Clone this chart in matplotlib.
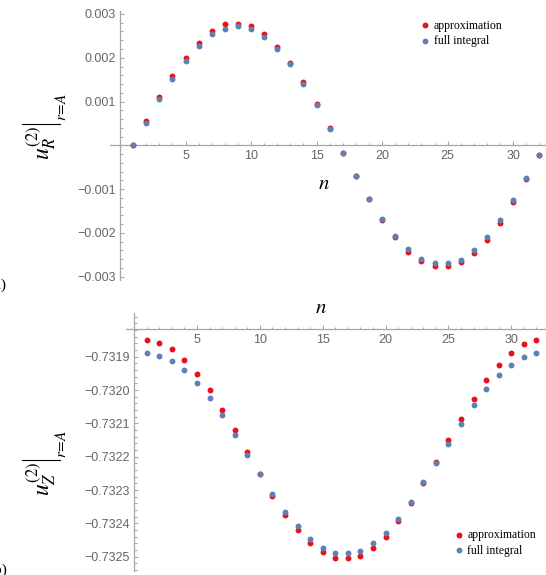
import matplotlib
matplotlib.use("Agg")
import matplotlib.pyplot as plt
from matplotlib.lines import Line2D
from matplotlib.ticker import MultipleLocator, FixedLocator, FuncFormatter

plt.rcParams['mathtext.fontset'] = 'stix'

n = list(range(1, 33))

uR_approx = [0.0, 0.000556, 0.001097, 0.001584, 0.002003, 0.00233, 0.0026, 0.00276,
             0.00278, 0.00273, 0.00254, 0.00224, 0.00189, 0.00144, 0.00094, 0.0004,
             -0.000168, -0.00071, -0.00123, -0.00171, -0.0021, -0.00243, -0.00264, -0.00276,
             -0.00276, -0.00267, -0.00246, -0.00216, -0.00177, -0.00129, -0.00077, -0.00023]
uR_full = [0.0, 0.000518, 0.001059, 0.001516, 0.001934, 0.00227, 0.00254, 0.00266,
           0.00272, 0.00266, 0.00248, 0.00221, 0.00185, 0.00139, 0.00092, 0.00037,
           -0.000168, -0.00071, -0.00123, -0.00168, -0.00207, -0.00238, -0.00259, -0.0027,
           -0.0027, -0.00261, -0.0024, -0.0021, -0.00171, -0.00126, -0.00074, -0.00023]

uZ_approx = [-0.731851, -0.731859, -0.731878, -0.731909, -0.731951, -0.732001, -0.73206, -0.732121,
             -0.732187, -0.732253, -0.732317, -0.732374, -0.73242, -0.732459, -0.732486, -0.732505,
             -0.732505, -0.732497, -0.732474, -0.73244, -0.732393, -0.73234, -0.73228, -0.732215,
             -0.732149, -0.732087, -0.732026, -0.731971, -0.731925, -0.73189, -0.731863, -0.731851]
uZ_full = [-0.73189, -0.731898, -0.731913, -0.73194, -0.73198, -0.732025, -0.732076, -0.732134,
           -0.732195, -0.732253, -0.732311, -0.732365, -0.732408, -0.732447, -0.732473, -0.732489,
           -0.732489, -0.732482, -0.732459, -0.732428, -0.732386, -0.732335, -0.732277, -0.732218,
           -0.732161, -0.732103, -0.732045, -0.731998, -0.731955, -0.731925, -0.731901, -0.73189]

x_ticks = [5, 10, 15, 20, 25, 30]
uR_ticks = [-0.003, -0.002, -0.001, 0.001, 0.002, 0.003]
uZ_ticks = [-0.7325, -0.7324, -0.7323, -0.7322, -0.7321, -0.7320, -0.7319]
series_labels = ['approximation', 'full integral']

RED = '#e8101a'
BLUE = '#5e81b5'
AX = '#a6a6a6'
LAB = '#666666'
W, H = 546, 575

fig = plt.figure(figsize=(W / 100, H / 100), dpi=100)


def fx(px):
    return px / W


def fy(py):
    return 1 - py / H


def style(ax, y0, yticks, yminor, fmt):
    for s in ('top', 'right'):
        ax.spines[s].set_visible(False)
    ax.spines['left'].set_position(('data', 0))
    ax.spines['bottom'].set_position(('data', y0))
    for s in ('left', 'bottom'):
        ax.spines[s].set_color(AX)
        ax.spines[s].set_linewidth(0.9)
    ax.xaxis.set_major_locator(FixedLocator(x_ticks))
    ax.xaxis.set_minor_locator(MultipleLocator(1))
    ax.yaxis.set_major_locator(FixedLocator(yticks))
    ax.yaxis.set_minor_locator(MultipleLocator(yminor))
    ax.yaxis.set_major_formatter(FuncFormatter(fmt))
    ax.tick_params(which='both', direction='in', color=AX, width=0.8)
    ax.tick_params(which='major', length=3.2, labelsize=9, labelcolor=LAB)
    ax.tick_params(axis='y', which='major', pad=3)
    ax.tick_params(axis='x', which='major', pad=3.5)
    ax.tick_params(which='minor', length=1.8)
    for lab in ax.get_xticklabels() + ax.get_yticklabels():
        lab.set_fontfamily('Liberation Sans')


leg_kw = dict(frameon=False, handlelength=0.6, handletextpad=0.45, borderpad=0, borderaxespad=0,
              labelspacing=0.3, scatterpoints=1, prop={'family': 'Liberation Serif', 'size': 8.5})

# top panel
ax1 = fig.add_axes([fx(110), fy(279.9), 436 / W, 269.2 / H])
ax1.scatter(n, uR_approx, s=18, color=RED, linewidths=0, label=series_labels[0], zorder=3)
ax1.scatter(n, uR_full, s=18, color=BLUE, linewidths=0, label=series_labels[1], zorder=4)
ax1.set_xlim(-0.76, 32.5)
ax1.set_ylim(-0.003075, 0.003075)
style(ax1, 0.0, uR_ticks, 0.0002, lambda v, p: f"{v:.3f}".replace('-', '\u2212'))
ax1.legend(loc='upper left', bbox_to_anchor=(fx(421.5), fy(19.5)), bbox_transform=fig.transFigure,
           **leg_kw)

# bottom panel
ax2 = fig.add_axes([fx(126), fy(571), 420 / W, 257.7 / H])
ax2.scatter(n, uZ_approx, s=18, color=RED, linewidths=0, label=series_labels[0], zorder=3)
ax2.scatter(n, uZ_full, s=18, color=BLUE, linewidths=0, label=series_labels[1], zorder=4)
ax2.set_xlim(-0.65, 32.76)
ax2.set_ylim(-0.732543, -0.73176967)
style(ax2, -0.731818, uZ_ticks, 0.00002, lambda v, p: f"{v:.4f}".replace('-', '\u2212'))
ax2.legend(loc='upper left', bbox_to_anchor=(fx(455), fy(529)), bbox_transform=fig.transFigure,
           **leg_kw)

# axis labels
fig.text(fx(324), fy(183), r'$n$', fontsize=15, ha='center', va='center')
fig.text(fx(321), fy(307), r'$n$', fontsize=15, ha='center', va='center')


def ylabel(sym, bar_y):
    # evaluation bar  u|_{r=A}, rotated by 90 degrees
    fig.text(fx(41), fy(bar_y + 19), r'$u_{%s}^{(2)}$' % sym, fontsize=17,
             rotation=90, ha='center', va='center')
    fig.add_artist(Line2D([fx(22), fx(60)], [fy(bar_y), fy(bar_y)], color='black',
                          linewidth=0.8, transform=fig.transFigure))
    fig.text(fx(62), fy(bar_y - 16), r'$r\!=\!A$', fontsize=11,
             rotation=90, ha='center', va='center')


ylabel('R', 123.5)
ylabel('Z', 460)

# panel tags (clipped at the left edge as in the original)
fig.text(fx(6.5), fy(285), '(a)', fontsize=11, family='Liberation Serif', ha='right', va='center')
fig.text(fx(7.5), fy(570), '(b)', fontsize=11, family='Liberation Serif', ha='right', va='center')

fig.savefig('out.png', dpi=100)
